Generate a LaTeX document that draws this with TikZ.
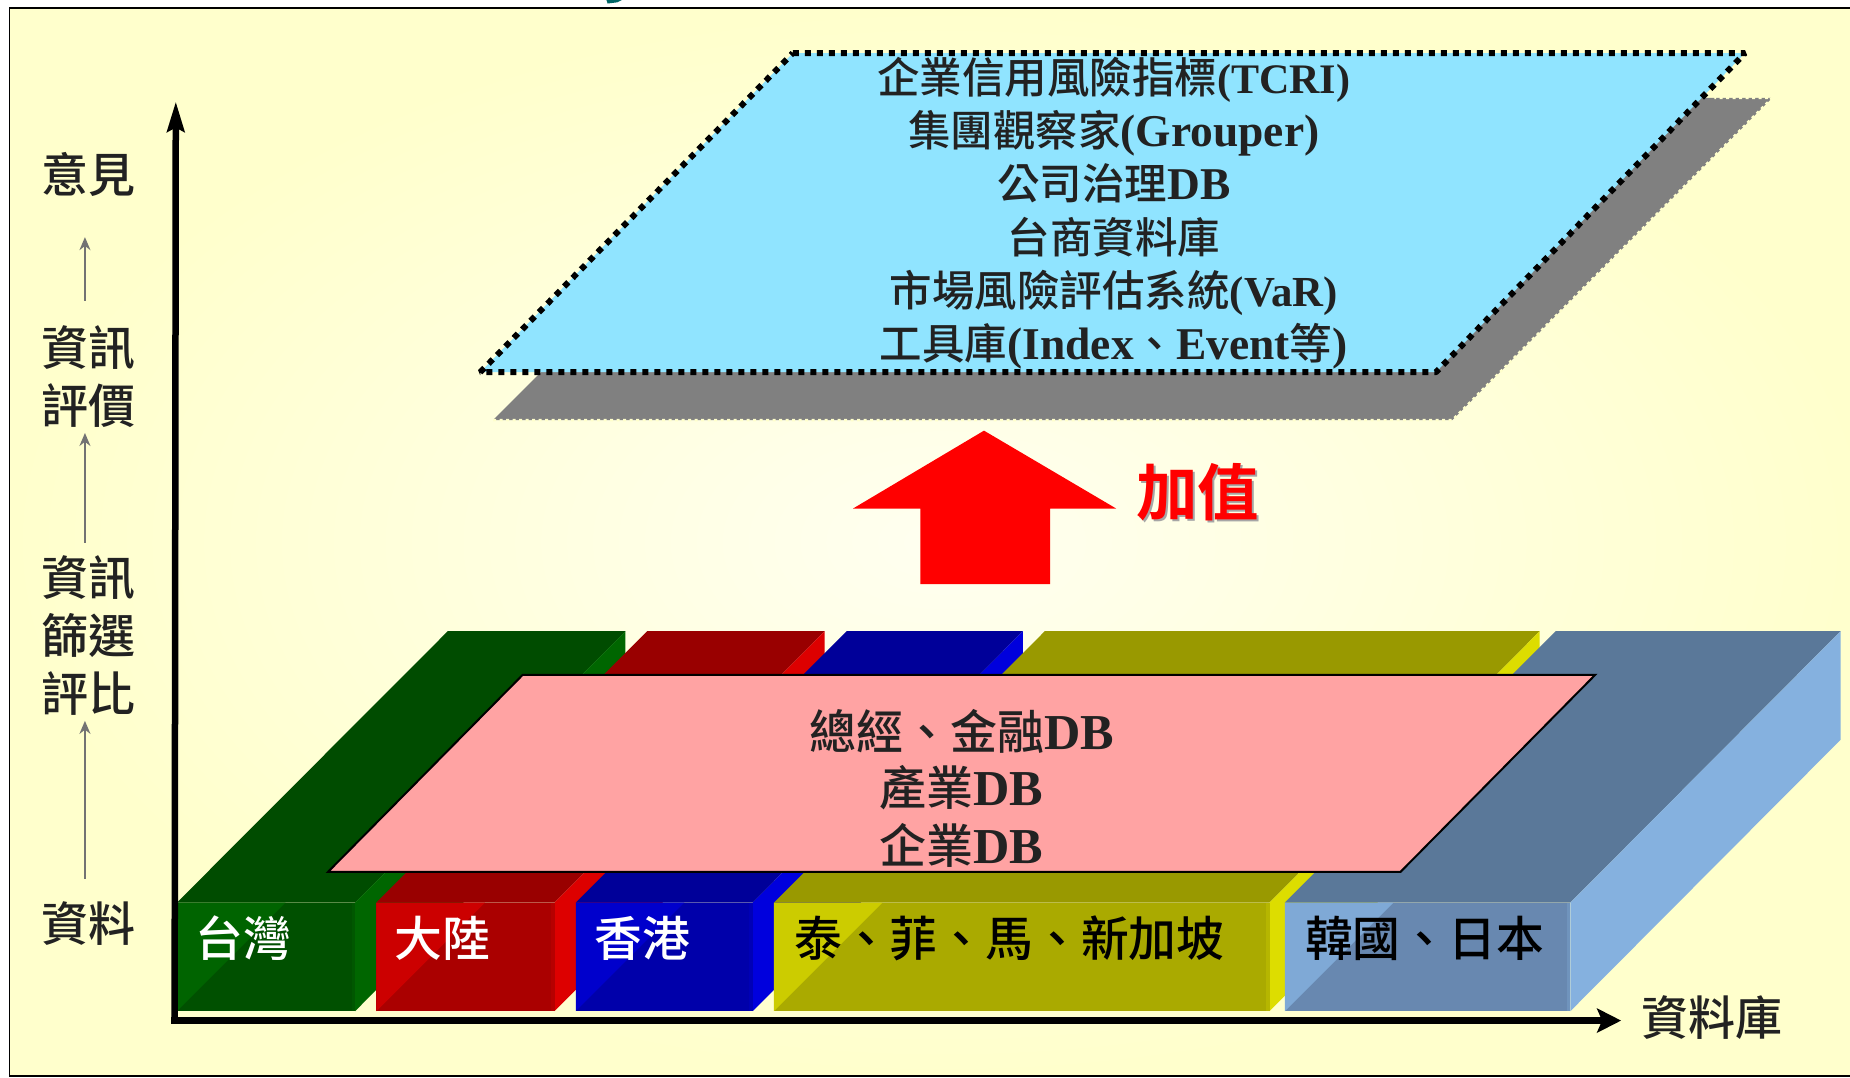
\documentclass[tikz,border=0pt]{standalone}
\usepackage{fontspec}
\usetikzlibrary{arrows.meta}
\newfontfamily\cj{Noto Sans CJK TC Medium}
\newfontfamily\cb{Noto Sans CJK TC}[BoldFont={* Bold}]
\newfontfamily\la{Liberation Serif}[Scale=1.07]
\definecolor{ink}{HTML}{222222}
\definecolor{paper}{HTML}{FFFFCC}
\definecolor{paperlt}{HTML}{FFFFF0}
\definecolor{gA}{HTML}{006400}\definecolor{gB}{HTML}{005000}\definecolor{gC}{HTML}{006600}\definecolor{gD}{HTML}{004C00}
\definecolor{rA}{HTML}{CC0000}\definecolor{rB}{HTML}{AA0000}\definecolor{rC}{HTML}{DD0000}\definecolor{rD}{HTML}{990000}
\definecolor{bA}{HTML}{0000CC}\definecolor{bB}{HTML}{0000AA}\definecolor{bC}{HTML}{0000DD}\definecolor{bD}{HTML}{000099}
\definecolor{yA}{HTML}{CCCC00}\definecolor{yB}{HTML}{AAAA00}\definecolor{yC}{HTML}{DDDD00}\definecolor{yD}{HTML}{999900}
\definecolor{sA}{HTML}{7FA9D6}\definecolor{sB}{HTML}{6888B0}\definecolor{sC}{HTML}{85B1DF}\definecolor{sD}{HTML}{5A7899}
\definecolor{pinkface}{HTML}{FFA3A3}
\definecolor{skyface}{HTML}{90E4FF}
\newcommand{\dbblock}[3]{% x0, x1, colour prefix
  \fill[#3D] (#1,765) -- (#1+229.5,535) -- (#2+229,535) -- (#2,765) -- cycle;
  \fill[#3C] (#2,765) -- (#2+229,535) -- (#2+229,627) -- (#2,857) -- cycle;
  \fill[#3B] (#1,765) rectangle (#2,857);
  \fill[#3A] (#1,765) -- (#1+92,765) -- (#1,857) -- cycle;
  \fill[#3B!65!#3A] (#2-3,765) rectangle (#2,857);
}
\tikzset{
  x=1.17981pt,y=-1.17981pt,
  axislabel/.style={font=\cj\fontsize{47}{47}\selectfont,text=ink,inner sep=0pt,anchor=base},
  boxlabel/.style={font=\cj\fontsize{47.8}{47.8}\selectfont,inner sep=0pt,anchor=base west},
  toplabel/.style={font=\cj\fontsize{42.5}{42.5}\selectfont,text=ink,inner sep=0pt,anchor=base},
  pinklabel/.style={font=\cj\fontsize{47}{47}\selectfont,text=ink,inner sep=0pt,anchor=base},
  grayarrow/.style={draw=gray!90!black,line width=1.6pt,-{Stealth[length=13pt,width=11pt]}},
  axisline/.style={draw=black,line width=6.5pt,-{Stealth[length=24pt,width=24pt,inset=5pt]}},
}
\begin{document}
\begin{tikzpicture}
\useasboundingbox (0,0) rectangle (1568,913);
\fill[white] (0,0) rectangle (1568,913);
\fill[teal!80!black] (514,0) -- (527,0) -- (523,2) -- (515,3) -- cycle;
\shade[inner color=paperlt,outer color=paper] (8,7) rectangle (1590,912);
\draw[black,line width=1.6pt] (1590,7) -- (8,7) -- (8,912) -- (1590,912);

% database blocks
\dbblock{150}{301}{g}
\dbblock{319}{470}{r}
\dbblock{488}{638}{b}
\dbblock{656}{1076}{y}
\dbblock{1089}{1331}{s}

% pink layer
\filldraw[fill=pinkface,draw=black,line width=2pt] (443,572) -- (1352,572) -- (1187,739) -- (278,739) -- cycle;
\node[pinklabel] (m1) at (815,635) {總經、金融{\la\bfseries DB}};
\node[pinklabel] (m2) at (815,683) {產業{\la\bfseries DB}};
\node[pinklabel] (m3) at (815,732) {企業{\la\bfseries DB}};

% block labels
\node[boxlabel,text=white] (b1) at (165.5,811) {台灣};
\node[boxlabel,text=white] (b2) at (334.5,811) {大陸};
\node[boxlabel,text=white] (b3) at (503.5,811) {香港};
\node[boxlabel,text=black] (b4) at (673,811) {泰、菲、馬、新加坡};
\node[boxlabel,text=black] (b5) at (1106,811) {韓國、日本};

% top layer with shadow
\fill[fill=black!50] (418,356) -- (1231,356) -- (1502,83) -- (690,83) -- cycle;
\draw[paper,line width=2.5pt,dash pattern=on 3pt off 3.5pt] (418,356) -- (1231,356) -- (1502,83) -- (1453,83);
\filldraw[fill=skyface,draw=black,line width=6pt,line join=bevel,dash pattern=on 6pt off 6pt] (672,45) -- (1479,45) -- (1217,315.5) -- (407,315.5) -- cycle;
\node[toplabel] (t1) at (944,79) {企業信用風險指標{\la\bfseries\fontsize{39.3}{39.3}\selectfont (TCRI)}};
\node[toplabel] (t2) at (944,124) {集團觀察家{\la\bfseries (Grouper)}};
\node[toplabel] (t3) at (944,169) {公司治理{\la\bfseries DB}};
\node[toplabel] (t4) at (944,215) {台商資料庫};
\node[toplabel] (t5) at (944,260) {市場風險評估系統{\la\bfseries\fontsize{40}{40}\selectfont (VaR)}};
\node[toplabel] (t6) at (944,305) {工具庫{\la\bfseries (Index}、{\la\bfseries Event}等{\la\bfseries )}};

% value-add arrow
\fill[red] (834,365) -- (946,431) -- (890,431) -- (890,495) -- (780,495) -- (780,431) -- (723,431) -- cycle;
\node[font=\cb\bfseries\fontsize{61.5}{61.5}\selectfont,text=black!35,inner sep=0pt,anchor=base] at (1017,439) {加值};
\node[font=\cb\bfseries\fontsize{61.5}{61.5}\selectfont,text=red,inner sep=0pt,anchor=base] (gain) at (1015,437) {加值};

% axes
\coordinate (origin) at (148,865);
\coordinate (ytip) at (149,86);
\coordinate (xtip) at (1374,865);
\draw[axisline,-{Stealth[length=30pt,width=17pt,inset=4pt]}] (origin) -- (ytip);
\draw[axisline] (145,865) -- (xtip);
\node[axislabel] (xl) at (1451,878) {資料庫};

% left scale
\node[axislabel] (l1) at (75,163) {意見};
\node[axislabel] (l2a) at (75,310) {資訊};
\node[axislabel] (l2b) at (75,359) {評價};
\node[axislabel] (l3a) at (75,505) {資訊};
\node[axislabel] (l3b) at (75,554) {篩選};
\node[axislabel] (l3c) at (75,603) {評比};
\node[axislabel] (l4) at (75,798) {資料};
\coordinate (a1s) at (72,255); \coordinate (a1e) at (72,201);
\coordinate (a2s) at (72,460); \coordinate (a2e) at (72,367);
\coordinate (a3s) at (72,745); \coordinate (a3e) at (72,611);
\draw[grayarrow] (a1s) -- (a1e);
\draw[grayarrow] (a2s) -- (a2e);
\draw[grayarrow] (a3s) -- (a3e);
\end{tikzpicture}
\end{document}
